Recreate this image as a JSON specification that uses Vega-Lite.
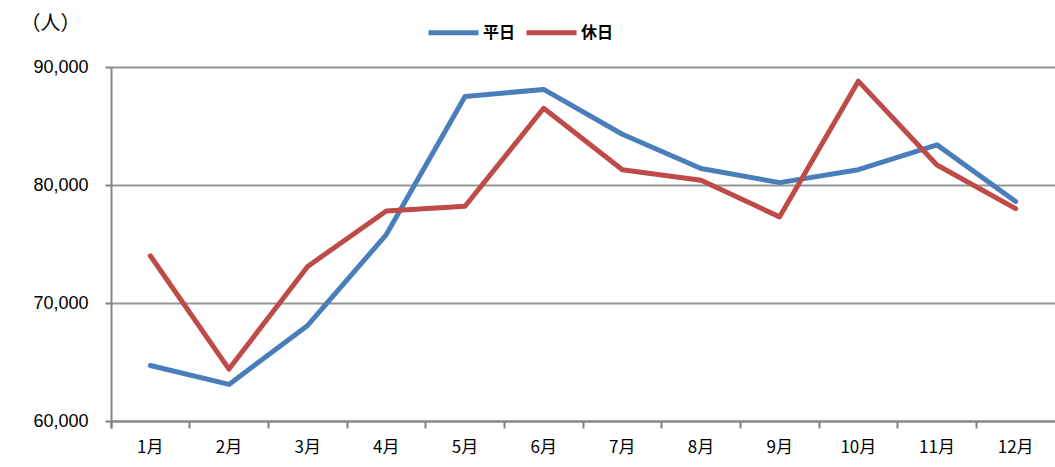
{
  "$schema": "https://vega.github.io/schema/vega-lite/v6.json",
  "width": 944,
  "height": 354,
  "autosize": {"type": "none"},
  "padding": {"left": 111, "top": 67, "right": 0, "bottom": 46},
  "background": "white",
  "config": {"view": {"stroke": null}},
  "data": {"values": [
    {"month": "1月", "type": "平日", "value": 64700},
    {"month": "2月", "type": "平日", "value": 63100},
    {"month": "3月", "type": "平日", "value": 68100},
    {"month": "4月", "type": "平日", "value": 75800},
    {"month": "5月", "type": "平日", "value": 87500},
    {"month": "6月", "type": "平日", "value": 88100},
    {"month": "7月", "type": "平日", "value": 84300},
    {"month": "8月", "type": "平日", "value": 81400},
    {"month": "9月", "type": "平日", "value": 80200},
    {"month": "10月", "type": "平日", "value": 81300},
    {"month": "11月", "type": "平日", "value": 83400},
    {"month": "12月", "type": "平日", "value": 78600},
    {"month": "1月", "type": "休日", "value": 74000},
    {"month": "2月", "type": "休日", "value": 64400},
    {"month": "3月", "type": "休日", "value": 73100},
    {"month": "4月", "type": "休日", "value": 77800},
    {"month": "5月", "type": "休日", "value": 78200},
    {"month": "6月", "type": "休日", "value": 86500},
    {"month": "7月", "type": "休日", "value": 81300},
    {"month": "8月", "type": "休日", "value": 80400},
    {"month": "9月", "type": "休日", "value": 77300},
    {"month": "10月", "type": "休日", "value": 88800},
    {"month": "11月", "type": "休日", "value": 81700},
    {"month": "12月", "type": "休日", "value": 78000}
  ]},
  "mark": {"type": "line", "strokeWidth": 5, "strokeCap": "round", "strokeJoin": "round"},
  "encoding": {
    "x": {
      "field": "month", "type": "ordinal",
      "sort": ["1月","2月","3月","4月","5月","6月","7月","8月","9月","10月","11月","12月"],
      "scale": {"type": "band", "paddingInner": 0, "paddingOuter": 0},
      "axis": {
        "orient": "bottom",
        "title": null, "labelAngle": 0, "domain": true,
        "bandPosition": 0, "tickExtra": true,
        "ticks": true, "tickSize": 7, "tickColor": "#808080", "tickWidth": 2, "tickOpacity": 1,
        "domainColor": "#868686", "domainWidth": 2,
        "labelFont": "Noto Sans CJK JP", "labelFontSize": 17, "labelColor": "#000000",
        "labelPadding": 11
      }
    },
    "y": {
      "field": "value", "type": "quantitative",
      "scale": {"domain": [60000, 90000], "nice": false, "zero": false},
      "axis": {
        "values": [60000, 70000, 80000, 90000],
        "format": ",d",
        "title": "（人）", "titleAngle": 0, "titleX": -61, "titleY": -44,
        "titleAlign": "center", "titleBaseline": "middle",
        "titleFont": "Noto Sans CJK JP", "titleFontSize": 20, "titleFontWeight": "normal", "titleColor": "#000000",
        "labelFont": "Liberation Sans", "labelFontSize": 18, "labelColor": "#000000",
        "labelPadding": 17, "tickSize": 6, "tickColor": "#808080", "tickWidth": 2,
        "domainColor": "#868686", "domainWidth": 2,
        "grid": true, "gridColor": "#969696", "gridWidth": 2
      }
    },
    "color": {
      "field": "type", "type": "nominal",
      "scale": {"domain": ["平日", "休日"], "range": ["#4a7ebb", "#be4b48"]},
      "legend": {
        "title": null, "orient": "none", "legendX": 315, "legendY": -62,
        "direction": "horizontal", "symbolType": "stroke", "symbolSize": 2500,
        "symbolStrokeWidth": 5, "labelFont": "Noto Sans CJK JP", "labelFontSize": 16,
        "labelFontWeight": "bold",
        "labelColor": "#000000", "columnPadding": 0, "labelOffset": 2
      }
    }
  }
}
